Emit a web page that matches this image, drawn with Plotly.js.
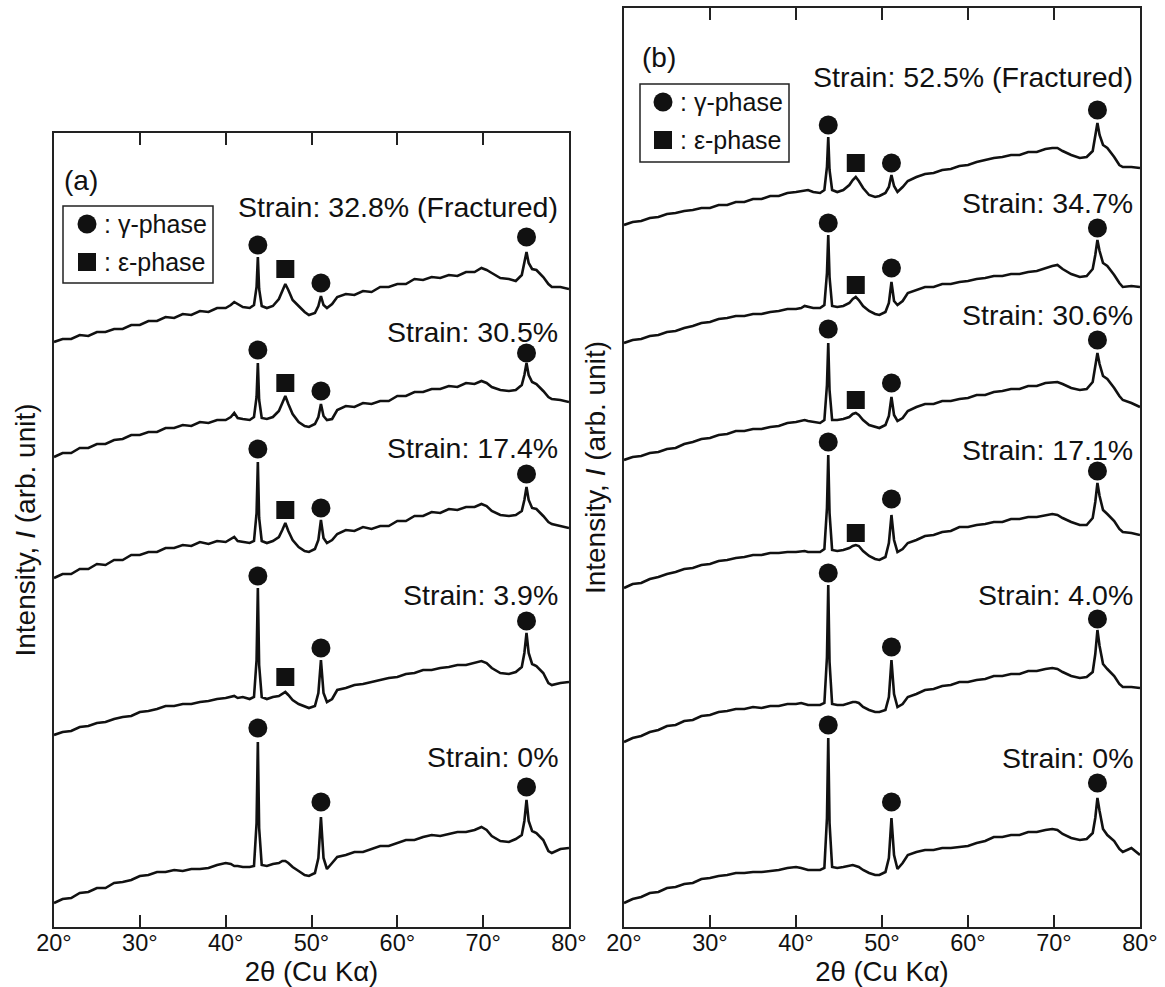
<!DOCTYPE html>
<html><head><meta charset="utf-8">
<script src="https://cdn.plot.ly/plotly-3.0.1.min.js"></script>
<style>html,body{margin:0;padding:0;background:#fff;} #chart{width:1165px;height:987px;}</style>
</head><body><div id="chart"></div>
<script>
// 2-theta sampling (degrees)
const twoTheta = [20,21,22,23,24,25,26,27,28,29,30,31,32,33,34,35,36,37,38,39,40,
  40.6,41.0,41.4,42.0,42.8,43.3,43.6,43.75,43.9,44.2,44.8,45.5,46.2,46.6,46.95,47.3,47.8,48.5,49.2,49.7,50.4,50.8,51.1,51.4,51.8,52.4,53.0,
  54,55,56,57,58,59,60,61,62,63,64,65,66,67,68,69,
  69.8,70.4,71,72,73,73.8,74.5,74.8,75.05,75.3,75.7,76.2,77,77.6,78,79,80];
const tickVals = [20,30,40,50,60,70,80];
const tickText = ['20°','30°','40°','50°','60°','70°','80°'];

// Panel (a) labels and intensities (stacked, arb. unit)
const labelsA = ['Strain: 32.8% (Fractured)','Strain: 30.5%','Strain: 17.4%','Strain: 3.9%','Strain: 0%'];
const intA1 = [585,588,588,592,591,595,595,598,598,602,602,606,606,610,609,613,612,616,615,619,619,
  622,625,623,620,619,622,640,670,638,621,619,621,628,636,643,637,627,621,615,612,614,621,631,622,619,623,630,
  633,632,636,635,640,640,643,643,648,647,650,649,652,651,655,655,
  659,657,654,649,648,646,652,663,675,664,658,657,650,643,640,640,638];
const intA2 = [470,474,474,479,479,483,483,487,488,492,492,495,495,499,499,502,501,505,504,507,507,
  510,514,509,508,507,510,530,564,527,509,508,510,516,524,531,523,513,505,501,500,503,510,523,511,507,508,517,
  521,520,524,523,526,526,531,531,535,535,538,538,541,540,544,543,
  546,544,540,537,536,537,542,552,564,552,545,543,536,530,528,527,525];
const intA3 = [349,353,353,358,358,363,362,367,367,372,372,375,375,379,379,382,381,385,383,386,385,
  388,390,386,385,384,386,414,465,409,386,384,386,390,397,404,396,387,380,376,375,378,387,407,389,384,387,393,
  397,396,400,398,401,401,406,406,411,411,415,414,418,417,420,420,
  423,421,416,412,411,412,416,427,440,427,419,418,411,405,403,401,399];
const intA4 = [192,195,196,200,201,204,205,208,210,211,215,216,218,221,221,223,223,225,226,228,229,
  230,231,229,230,228,230,267,339,262,230,228,230,231,233,235,232,227,223,221,219,221,234,267,234,225,228,237,
  239,242,243,245,247,249,250,253,254,257,257,259,260,262,262,264,
  266,264,259,254,253,255,260,274,294,274,263,261,254,244,242,244,245];
const intA5 = [24,28,29,34,35,39,39,44,45,47,51,52,55,55,57,56,58,58,59,62,64,
  63,61,61,60,60,61,104,185,99,62,61,63,64,66,66,64,60,56,52,51,54,69,110,69,58,64,70,
  72,75,75,78,81,81,84,87,87,90,92,91,93,95,95,97,
  100,97,91,86,85,88,92,106,127,106,96,94,87,76,74,78,79];

// Panel (b)
const labelsB = ['Strain: 52.5% (Fractured)','Strain: 34.7%','Strain: 30.6%','Strain: 17.1%','Strain: 4.0%','Strain: 0%'];
const intB1 = [702,705,706,709,710,713,714,716,717,719,719,722,722,725,725,728,728,731,731,734,735,
  736,737,737,735,734,737,760,790,757,737,735,737,742,747,750,746,739,732,730,731,734,740,752,741,735,740,746,
  750,753,754,757,758,761,762,765,767,769,770,772,772,775,775,778,
  779,779,776,772,769,770,776,790,804,792,782,779,770,762,760,760,759];
const intB2 = [584,587,588,591,592,595,596,599,601,604,605,608,609,611,611,613,613,615,616,618,618,
  619,621,620,619,619,622,654,692,650,621,620,621,624,628,630,627,621,616,613,612,615,624,645,626,622,626,634,
  637,640,640,643,643,645,646,648,649,651,651,653,653,655,656,659,
  661,662,658,653,650,651,658,672,687,676,664,661,652,644,640,641,640];
const intB3 = [467,470,471,474,475,478,479,483,485,488,489,492,493,496,496,498,498,500,501,504,505,
  506,507,506,505,504,507,542,584,537,507,507,508,510,513,514,512,507,502,500,499,502,511,530,512,506,509,516,
  520,523,523,526,526,528,529,532,532,535,536,538,538,541,541,544,
  545,545,543,539,537,538,545,559,574,563,551,548,539,531,527,524,520];
const intB4 = [339,343,344,348,350,353,355,358,359,362,363,366,367,369,370,372,372,374,374,375,375,
  376,376,375,375,375,378,419,472,414,377,376,377,379,381,382,381,376,371,368,367,370,384,412,387,375,378,384,
  387,391,392,395,396,400,400,402,403,405,405,408,408,410,410,412,
  413,412,409,405,402,402,409,425,444,431,417,413,406,398,395,394,392];
const intB5 = [185,189,191,195,197,201,202,206,207,211,212,215,216,218,218,220,219,221,221,223,223,
  224,223,222,222,222,224,270,342,265,223,222,222,224,225,225,224,220,217,215,215,217,230,267,233,220,223,230,
  233,237,238,241,242,245,245,247,248,251,251,253,253,256,256,258,
  259,258,255,251,249,250,255,273,297,281,263,258,251,243,240,240,239];
const intB6 = [24,28,30,34,35,39,40,43,44,48,49,51,52,54,54,55,55,56,57,59,60,
  59,58,57,57,57,59,109,189,104,60,59,60,61,62,61,60,57,54,52,52,55,69,109,72,58,64,72,
  75,77,77,79,79,80,81,84,86,90,90,92,92,95,95,97,
  98,97,93,89,87,88,94,109,129,116,98,92,86,78,75,79,72];

// Phase marks: peak positions and marker heights per pattern
const gammaPeaks = [43.75, 51.1, 75.05];
const epsPeak = 46.95;
const gammaA1 = [682,644,690], gammaA2 = [577,536,574], gammaA3 = [478,419,453], gammaA4 = [351,279,306], gammaA5 = [199,125,140];
const epsA = [658,544,417,250];
const gammaB1 = [802,764,817], gammaB2 = [704,659,699], gammaB3 = [598,544,587], gammaB4 = [485,428,456], gammaB5 = [354,280,308], gammaB6 = [202,125,144];
const epsB = [764,642,527,394];

// ---------- build figure ----------
const FONT = 'Liberation Sans, Arial, Helvetica, sans-serif';
const INK = '#111';
const W = 1165, H = 987;
const px = v => v / W;            // paper x from pixel
const py = v => (H - v) / H;      // paper y from pixel

const traces = [];
function addLines(series, xa, ya) {
  series.forEach(s => traces.push({x: twoTheta, y: s, xaxis: xa, yaxis: ya, mode: 'lines',
    line: {color: INK, width: 2.6}, hoverinfo: 'skip', showlegend: false}));
}
function addMarks(gammaSets, epsSet, xa, ya) {
  const gx = [], gy = [];
  gammaSets.forEach(g => g.forEach((v, i) => { gx.push(gammaPeaks[i]); gy.push(v); }));
  traces.push({x: gx, y: gy, xaxis: xa, yaxis: ya, mode: 'markers', cliponaxis: false,
    marker: {symbol: 'circle', size: 19, color: INK, line: {width: 0}}, showlegend: false, hoverinfo: 'skip'});
  traces.push({x: epsSet.map(() => epsPeak), y: epsSet, xaxis: xa, yaxis: ya, mode: 'markers', cliponaxis: false,
    marker: {symbol: 'square', size: 18, color: INK, line: {width: 0}}, showlegend: false, hoverinfo: 'skip'});
}
addLines([intA1, intA2, intA3, intA4, intA5], 'x', 'y');
addLines([intB1, intB2, intB3, intB4, intB5, intB6], 'x2', 'y2');
addMarks([gammaA1, gammaA2, gammaA3, gammaA4, gammaA5], epsA, 'x', 'y');
addMarks([gammaB1, gammaB2, gammaB3, gammaB4, gammaB5, gammaB6], epsB, 'x2', 'y2');

function xAxis(domain, anchor) {
  return {domain: domain, anchor: anchor, range: [20, 80], tickmode: 'array', tickvals: tickVals, ticktext: tickText,
    ticks: 'inside', ticklen: 12, tickwidth: 2, tickcolor: '#222', showline: true, linewidth: 2, linecolor: '#222',
    mirror: 'ticks', showgrid: false, zeroline: false, tickfont: {family: FONT, size: 23.5, color: INK},
    ticklabelstandoff: -6,
    title: {text: '2θ (Cu Kα)', font: {family: FONT, size: 27.5, color: INK}, standoff: 10}};
}
function yAxis(domain, anchor, top) {
  return {domain: domain, anchor: anchor, range: [0, top], showline: true, linewidth: 2, linecolor: '#222', mirror: true,
    ticks: '', showticklabels: false, showgrid: false, zeroline: false,
    title: {text: 'Intensity, <i>I</i> (arb. unit)', font: {family: FONT, size: 28, color: INK}, standoff: 8}};
}

const ann = [];
const labelYA = [207, 332, 448, 595, 757];
const labelYB = [77, 203, 315, 450, 595, 758];
labelsA.forEach((t, i) => ann.push({text: t, xref: 'paper', yref: 'paper', x: px(560), y: py(labelYA[i]), xanchor: 'right', yanchor: 'middle', showarrow: false, font: {family: FONT, size: 28.5, color: INK}}));
labelsB.forEach((t, i) => ann.push({text: t, xref: 'paper', yref: 'paper', x: px(1135), y: py(labelYB[i]), xanchor: 'right', yanchor: 'middle', showarrow: false, font: {family: FONT, size: 28.5, color: INK}}));
ann.push({text: '(a)', xref: 'paper', yref: 'paper', x: px(62), y: py(180), xanchor: 'left', yanchor: 'middle', showarrow: false, font: {family: FONT, size: 28, color: INK}});
ann.push({text: '(b)', xref: 'paper', yref: 'paper', x: px(640), y: py(57), xanchor: 'left', yanchor: 'middle', showarrow: false, font: {family: FONT, size: 28, color: INK}});

const shapes = [];
function legend(x0, x1, y0, y1, mx, myG, myE, tx) {
  shapes.push({type: 'rect', xref: 'paper', yref: 'paper', x0: px(x0), x1: px(x1), y0: py(y1), y1: py(y0), line: {color: '#222', width: 1.5}, fillcolor: 'rgba(0,0,0,0)'});
  shapes.push({type: 'circle', xref: 'paper', yref: 'paper', xsizemode: 'pixel', ysizemode: 'pixel', xanchor: px(mx), yanchor: py(myG), x0: -9.5, x1: 9.5, y0: -9.5, y1: 9.5, fillcolor: INK, line: {width: 0}});
  shapes.push({type: 'rect', xref: 'paper', yref: 'paper', xsizemode: 'pixel', ysizemode: 'pixel', xanchor: px(mx), yanchor: py(myE), x0: -9, x1: 9, y0: -9, y1: 9, fillcolor: INK, line: {width: 0}});
  ann.push({text: ': γ-phase', xref: 'paper', yref: 'paper', x: px(tx), y: py(myG), xanchor: 'left', yanchor: 'middle', showarrow: false, font: {family: FONT, size: 25, color: INK}});
  ann.push({text: ': ε-phase', xref: 'paper', yref: 'paper', x: px(tx), y: py(myE), xanchor: 'left', yanchor: 'middle', showarrow: false, font: {family: FONT, size: 25, color: INK}});
}
legend(63, 213, 206, 283, 87, 224, 262, 102);
legend(640, 789, 84, 162, 663, 102, 140, 678);

const layout = {
  width: W, height: H, margin: {l: 0, r: 0, t: 0, b: 0}, paper_bgcolor: '#fff', plot_bgcolor: '#fff', showlegend: false,
  font: {family: FONT, color: INK},
  xaxis: xAxis([px(54), px(569)], 'y'),
  yaxis: yAxis([py(927), py(133)], 'x', 794),
  xaxis2: xAxis([px(624), px(1140)], 'y2'),
  yaxis2: yAxis([py(927), py(8)], 'x2', 919),
  annotations: ann, shapes: shapes
};
Plotly.newPlot('chart', traces, layout, {displayModeBar: false, staticPlot: true});
</script></body></html>
